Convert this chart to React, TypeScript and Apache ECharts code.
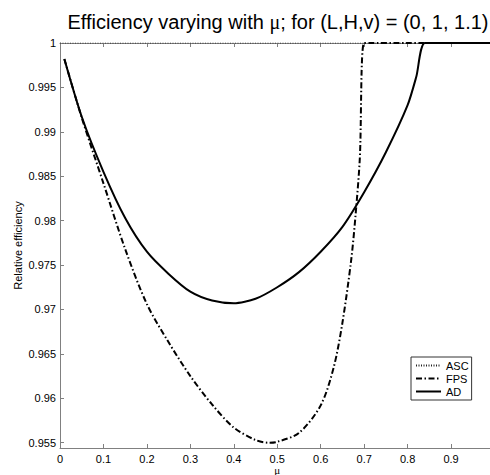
import { useEffect, useRef } from "react";
import * as echarts from "echarts";

const xTickValues = [0, 0.1, 0.2, 0.3, 0.4, 0.5, 0.6, 0.7, 0.8, 0.9, 1];
const xTickLabels = ["0", "0.1", "0.2", "0.3", "0.4", "0.5", "0.6", "0.7", "0.8", "0.9", ""];
const yTickValues = [0.955, 0.96, 0.965, 0.97, 0.975, 0.98, 0.985, 0.99, 0.995, 1];
const yTickLabels = ["0.955", "0.96", "0.965", "0.97", "0.975", "0.98", "0.985", "0.99", "0.995", "1"];

const ascX = [0, 1];
const ascY = [1, 1];

const fpsX = [0.01, 0.05, 0.1, 0.15, 0.2, 0.25, 0.3, 0.35, 0.4, 0.45, 0.48, 0.5, 0.55, 0.6, 0.63, 0.65, 0.67, 0.68, 0.69, 0.7, 0.72, 0.8, 0.9, 1];
const fpsY = [0.9982, 0.9916, 0.9842, 0.9768, 0.9706, 0.9663, 0.9625, 0.9593, 0.9567, 0.9553, 0.955, 0.9551, 0.9561, 0.9592, 0.9635, 0.9685, 0.9755, 0.9805, 0.987, 1, 1, 1, 1, 1];

const adX = [0.01, 0.05, 0.1, 0.15, 0.2, 0.25, 0.3, 0.35, 0.4, 0.45, 0.5, 0.55, 0.6, 0.65, 0.7, 0.75, 0.8, 0.82, 0.84, 0.9, 1];
const adY = [0.9982, 0.9917, 0.9855, 0.9803, 0.9765, 0.974, 0.972, 0.971, 0.9707, 0.9712, 0.9725, 0.9742, 0.9765, 0.9793, 0.9832, 0.9877, 0.993, 0.9962, 1, 1, 1];

const zip = (xs: number[], ys: number[]) => xs.map((x, i) => [x, ys[i]]);

const FONT = "Liberation Sans";
const AXIS_COLOR = "#808080";

const labelFor = (vals: number[], labels: string[]) => (v: number) => {
  const i = vals.findIndex((t) => Math.abs(t - v) < 1e-9);
  return i >= 0 ? labels[i] : "";
};

export default function App() {
  const ref = useRef<HTMLDivElement>(null);
  useEffect(() => {
    const chart = echarts.init(ref.current as HTMLDivElement, null, { renderer: "svg" });
    const xBase = {
      type: "value",
      min: 0,
      max: 1,
      splitLine: { show: false },
      axisLine: { onZero: false, lineStyle: { color: AXIS_COLOR, width: 1 } },
      axisTick: { inside: true, length: 4, customValues: xTickValues, lineStyle: { color: AXIS_COLOR } },
    };
    const yBase = {
      type: "value",
      min: 0.9544,
      max: 1,
      splitLine: { show: false },
      axisLine: { onZero: false, lineStyle: { color: AXIS_COLOR, width: 1 } },
      axisTick: { inside: true, length: 4, customValues: yTickValues, lineStyle: { color: AXIS_COLOR } },
    };
    chart.setOption({
      animation: false,
      backgroundColor: "#fff",
      title: {
        text: "Efficiency varying with {m|μ}; for (L,H,v) = (0, 1, 1.1)",
        left: 273,
        top: 7,
        textAlign: "center",
        textStyle: {
          fontFamily: FONT,
          fontSize: 20,
          fontWeight: "normal",
          color: "#000",
          rich: { m: { fontFamily: "Liberation Serif", fontSize: 20, color: "#000" } },
        },
      },
      legend: {
        orient: "vertical",
        left: 411,
        top: 357,
        itemWidth: 25,
        itemHeight: 12,
        itemGap: 2,
        padding: [3, 3, 3, 4],
        borderColor: "#333",
        borderWidth: 1,
        borderRadius: 0,
        backgroundColor: "#fff",
        itemStyle: { opacity: 0 },
        textStyle: { fontFamily: FONT, fontSize: 11, color: "#000" },
        data: ["ASC", "FPS", "AD"],
      },
      grid: { left: 60, right: -4.5, top: 43, bottom: 27, outerBoundsMode: "none", containLabel: false },
      xAxis: [
        {
          ...xBase,
          position: "bottom",
          name: "μ",
          nameLocation: "middle",
          nameGap: 16,
          nameMoveOverlap: false,
          nameTextStyle: { fontFamily: "Liberation Serif", fontSize: 11, color: "#000", verticalAlign: "top" },
          axisLabel: {
            customValues: xTickValues,
            formatter: labelFor(xTickValues, xTickLabels),
            margin: 5,
            fontFamily: FONT,
            fontSize: 11,
            color: "#000",
          },
        },
        { ...xBase, position: "top", axisLabel: { show: false } },
      ],
      yAxis: [
        {
          ...yBase,
          position: "left",
          name: "Relative efficiency",
          nameLocation: "middle",
          nameGap: 37,
          nameMoveOverlap: false,
          nameTextStyle: { fontFamily: FONT, fontSize: 11, color: "#000" },
          axisLabel: {
            customValues: yTickValues,
            formatter: labelFor(yTickValues, yTickLabels),
            margin: 4,
            fontFamily: FONT,
            fontSize: 11,
            color: "#000",
          },
        },
        { ...yBase, position: "right", axisLabel: { show: false } },
      ],
      series: [
        {
          name: "ASC",
          type: "line",
          data: zip(ascX, ascY),
          symbol: "none",
          itemStyle: { color: "#222" },
          lineStyle: { color: "#222", width: 1, type: [1, 1.5] },
          z: 1,
        },
        {
          name: "FPS",
          type: "line",
          data: zip(fpsX, fpsY),
          symbol: "none",
          smooth: 0.3,
          itemStyle: { color: "#000" },
          lineStyle: { color: "#000", width: 2, type: [6, 2.5, 1.5, 2.5] },
          z: 2,
        },
        {
          name: "AD",
          type: "line",
          data: zip(adX, adY),
          symbol: "none",
          smooth: 0.25,
          itemStyle: { color: "#000" },
          lineStyle: { color: "#000", width: 2, type: "solid" },
          z: 3,
        },
      ],
    });
    return () => chart.dispose();
  }, []);
  return (
    <div
      ref={ref}
      style={{ position: "fixed", left: 0, top: 0, width: 490, height: 475, overflow: "hidden", background: "#fff" }}
    />
  );
}
